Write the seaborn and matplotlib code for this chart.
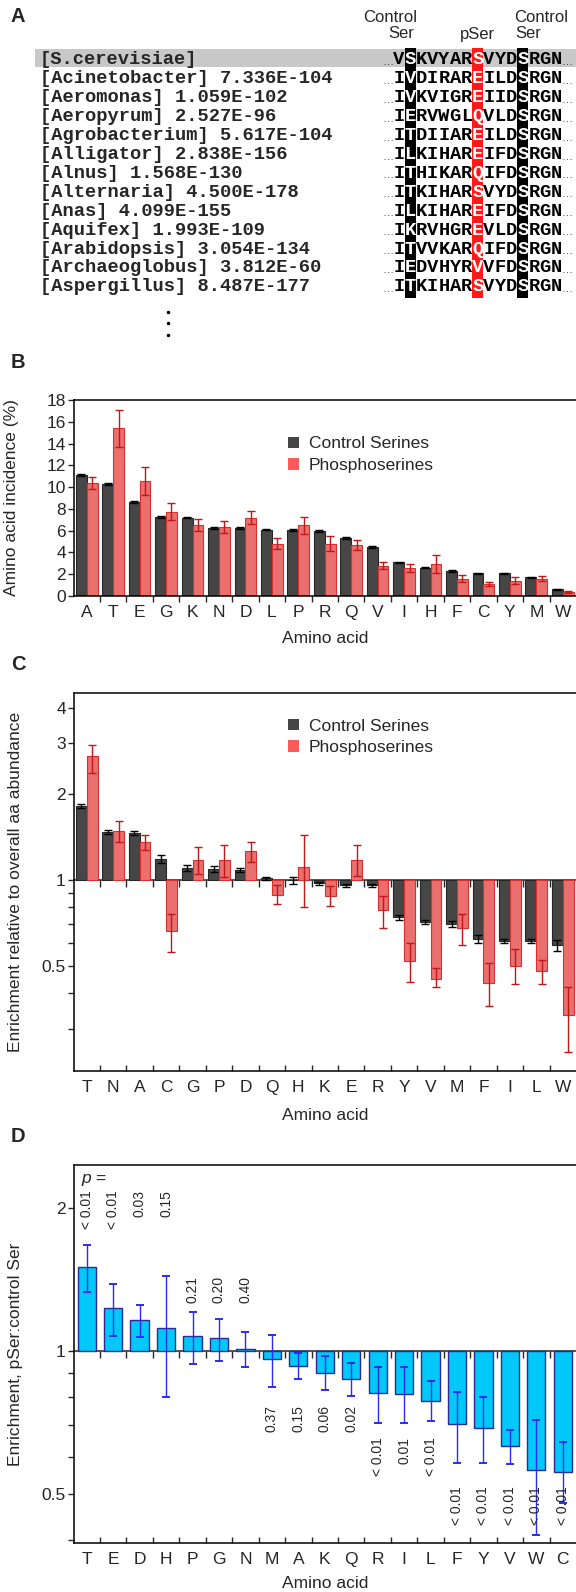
import numpy as np
import pandas as pd
import matplotlib
matplotlib.use('Agg')
import matplotlib.pyplot as plt
from matplotlib.patches import Rectangle, Patch
import seaborn as sns

# ---- panel A: alignment excerpt ----
species = ['S.cerevisiae', 'Acinetobacter', 'Aeromonas', 'Aeropyrum', 'Agrobacterium',
           'Alligator', 'Alnus', 'Alternaria', 'Anas', 'Aquifex', 'Arabidopsis',
           'Archaeoglobus', 'Aspergillus']
evalues = ['', '7.336E-104', '1.059E-102', '2.527E-96', '5.617E-104', '2.838E-156',
           '1.568E-130', '4.500E-178', '4.099E-155', '1.993E-109', '3.054E-134',
           '3.812E-60', '8.487E-177']
sequences = ['VSKVYARSVYDSRGN', 'IVDIRAREILDSRGN', 'IVKVIGREIIDSRGN', 'IERVWGLQVLDSRGN',
             'ITDIIAREILDSRGN', 'ILKIHAREIFDSRGN', 'ITHIKARQIFDSRGN', 'ITKIHARSVYDSRGN',
             'ILKIHAREIFDSRGN', 'IKRVHGREVLDSRGN', 'ITVVKARQIFDSRGN', 'IEDVHYRVVFDSRGN',
             'ITKIHARSVYDSRGN']
ctrl_cols = [1, 11]
pser_col = 7

# ---- panel B: amino acid incidence (%) ----
aa_b = ['A', 'T', 'E', 'G', 'K', 'N', 'D', 'L', 'P', 'R', 'Q', 'V', 'I', 'H', 'F', 'C', 'Y', 'M', 'W']
ctrl_b = [11.1, 10.3, 8.6, 7.28, 7.2, 6.25, 6.25, 6.1, 6.05, 5.95, 5.35, 4.5, 3.1, 2.6, 2.3, 2.1, 2.1, 1.7, 0.6]
ctrl_b_err = [0.12, 0.12, 0.1, 0.08, 0.08, 0.08, 0.08, 0.08, 0.08, 0.08, 0.07, 0.06, 0.06, 0.06, 0.05, 0.05, 0.05, 0.05, 0.04]
phos_b = [10.35, 15.4, 10.55, 7.75, 6.5, 6.3, 7.2, 4.8, 6.5, 4.8, 4.65, 2.8, 2.55, 2.95, 1.6, 1.13, 1.4, 1.6, 0.35]
phos_b_err = [0.55, 1.7, 1.3, 0.75, 0.55, 0.55, 0.6, 0.5, 0.8, 0.7, 0.45, 0.3, 0.35, 0.85, 0.3, 0.2, 0.3, 0.25, 0.08]

# ---- panel C: enrichment relative to overall abundance ----
aa_c = ['T', 'N', 'A', 'C', 'G', 'P', 'D', 'Q', 'H', 'K', 'E', 'R', 'Y', 'V', 'M', 'F', 'I', 'L', 'W']
ctrl_c = [1.81, 1.47, 1.457, 1.18, 1.10, 1.09, 1.08, 1.01, 0.995, 0.97, 0.955, 0.955, 0.74, 0.71, 0.70, 0.62, 0.61, 0.61, 0.59]
ctrl_c_err = [0.03, 0.02, 0.02, 0.04, 0.025, 0.03, 0.02, 0.015, 0.03, 0.015, 0.01, 0.012, 0.015, 0.01, 0.015, 0.02, 0.01, 0.01, 0.025]
phos_c = [2.70, 1.48, 1.355, 0.66, 1.175, 1.175, 1.26, 0.886, 1.11, 0.88, 1.175, 0.78, 0.52, 0.45, 0.68, 0.435, 0.50, 0.48, 0.335]
phos_c_lo = [2.37, 1.35, 1.27, 0.56, 1.05, 1.02, 1.15, 0.82, 0.80, 0.81, 1.03, 0.68, 0.44, 0.42, 0.59, 0.36, 0.43, 0.43, 0.25]
phos_c_hi = [2.97, 1.61, 1.437, 0.76, 1.30, 1.32, 1.35, 0.955, 1.43, 0.95, 1.32, 0.88, 0.60, 0.49, 0.76, 0.51, 0.57, 0.525, 0.42]

# ---- panel D: pSer : control Ser ----
aa_d = ['T', 'E', 'D', 'H', 'P', 'G', 'N', 'M', 'A', 'K', 'Q', 'R', 'I', 'L', 'F', 'Y', 'V', 'W', 'C']
ratio_d = [1.50, 1.23, 1.16, 1.12, 1.075, 1.063, 1.011, 0.96, 0.93, 0.90, 0.873, 0.815, 0.812, 0.787, 0.702, 0.69, 0.632, 0.563, 0.557]
ratio_lo = [1.33, 1.075, 1.07, 0.80, 0.94, 0.953, 0.924, 0.84, 0.873, 0.83, 0.806, 0.707, 0.705, 0.714, 0.583, 0.583, 0.58, 0.411, 0.48]
ratio_hi = [1.67, 1.38, 1.25, 1.44, 1.21, 1.17, 1.098, 1.08, 0.99, 0.976, 0.945, 0.927, 0.927, 0.866, 0.822, 0.80, 0.683, 0.716, 0.644]
p_labels = ['< 0.01', '< 0.01', '0.03', '0.15', '0.21', '0.20', '0.40', '0.37', '0.15', '0.06',
            '0.02', '< 0.01', '0.01', '< 0.01', '< 0.01', '< 0.01', '< 0.01', '< 0.01', '< 0.01']
# top of each rotated p label (in ratio units) - layout only
p_top = [2.18] * 4 + [1.44] * 3 + [0.77] * 4 + [0.66] * 3 + [0.52] * 5

dark, dark_edge = '#464646', '#262626'
red, red_edge, red_err = '#ff5a5a', '#d83030', '#c01818'
cyan, cyan_edge, blue_err = '#00c8f8', '#2a2a92', '#2c2cf0'

sns.set_style('ticks')
plt.rcParams['font.family'] = ['Liberation Sans', 'DejaVu Sans']
plt.rcParams['mathtext.fontset'] = 'custom'
plt.rcParams['mathtext.it'] = 'Liberation Sans:italic'
plt.rcParams['mathtext.rm'] = 'Liberation Sans'

W, H = 576, 1592
fig = plt.figure(figsize=(W / 100, H / 100), dpi=100)


def px_axes(left, top, right, bottom):
    return fig.add_axes([left / W, 1 - bottom / H, (right - left) / W, (bottom - top) / H])


# overlay in pixel coords for panel A and panel letters
ax_a = fig.add_axes([0, 0, 1, 1])
ax_a.set_xlim(0, W)
ax_a.set_ylim(H, 0)
ax_a.axis('off')

fs_mono = 13.5
cw = 0.6 * fs_mono * 100 / 72
row_y0, row_dy = 60, 18.9
seq_x0 = 399
ax_a.add_patch(Rectangle((35, row_y0 - 11), W - 35, 17.5, color='#c8c8c8', lw=0))
col_top = row_y0 - 12
col_h = row_dy * (len(species) - 1) + 23
for c in ctrl_cols:
    ax_a.add_patch(Rectangle((seq_x0 + c * cw - cw / 2, col_top), cw, col_h, color='black', lw=0))
ax_a.add_patch(Rectangle((seq_x0 + pser_col * cw - cw / 2, col_top), cw, col_h, color='#ff1a1a', lw=0))

for i, (sp, ev, sq) in enumerate(zip(species, evalues, sequences)):
    y = row_y0 + i * row_dy
    label = '[' + sp + ']' + (' ' + ev if ev else '')
    ax_a.text(40, y, label, family='Liberation Mono', weight='bold', fontsize=fs_mono,
              ha='left', va='center')
    ax_a.text(seq_x0 - 0.95 * cw, y + 5, '\u2026', fontsize=8, ha='center', va='baseline')
    ax_a.text(seq_x0 + (len(sq) - 0.05) * cw, y + 5, '\u2026', fontsize=8, ha='center', va='baseline')
    for k, ch in enumerate(sq):
        col = 'white' if (k in ctrl_cols or k == pser_col) else 'black'
        ax_a.text(seq_x0 + k * cw, y, ch, family='Liberation Mono', weight='bold',
                  fontsize=fs_mono, ha='center', va='center', color=col)

ax_a.text(390, 17, 'Control', fontsize=12, ha='center', va='center')
ax_a.text(401, 34, 'Ser', fontsize=12, ha='center', va='center')
ax_a.text(477, 34, 'pSer', fontsize=12, ha='center', va='center')
ax_a.text(541, 17, 'Control', fontsize=12, ha='center', va='center')
ax_a.text(528, 34, 'Ser', fontsize=12, ha='center', va='center')
ax_a.plot([168, 168, 168], [312, 323, 335], 'k.', ms=3)

for lab, y in [('A', 17), ('B', 363), ('C', 665), ('D', 1137)]:
    ax_a.text(18, y, lab, fontsize=14.5, weight='bold', ha='center', va='center')


def style_cat(ax, labels, xdir, height_px, xlab_off, ylab_x):
    n = len(labels)
    ax.set_xlim(-0.5, n - 0.5)
    ax.set_xticks(range(n), labels)
    ax.set_xticks(np.arange(0.5, n - 1, 1), minor=True)
    ax.tick_params(axis='x', which='major', length=0, pad=6.5, labelsize=12.5)
    ax.tick_params(axis='x', which='minor', direction=xdir, length=4, width=1)
    ax.tick_params(axis='y', which='both', direction='out', length=4, width=1, pad=1.5, labelsize=12.5)
    ax.spines['right'].set_visible(False)
    for s in ['left', 'bottom', 'top']:
        ax.spines[s].set_linewidth(1.1)
        ax.spines[s].set_color('black')
    ax.set_xlabel('Amino acid', fontsize=12.5)
    ax.xaxis.set_label_coords(0.5, -xlab_off / height_px)
    ax.yaxis.set_label_coords(ylab_x, 0.5)


def legend(ax, y):
    handles = [Patch(facecolor=dark, edgecolor='none'), Patch(facecolor=red, edgecolor='none')]
    ax.legend(handles, ['Control Serines', 'Phosphoserines'], loc='upper left',
              bbox_to_anchor=(0.427, y), frameon=False, fontsize=12.5, handlelength=0.65,
              handleheight=0.65, handletextpad=0.55, labelspacing=0.37, borderpad=0,
              borderaxespad=0)


def baseline(ax, n, lo, hi):
    sec = ax.secondary_xaxis((0 - lo) / (hi - lo))
    sec.set_xticks(np.arange(0.5, n - 1, 1))
    sec.set_xticklabels([])
    sec.tick_params(axis='x', direction='in', length=5, width=1)
    for s in sec.spines.values():
        s.set_linewidth(1.1)


# ---- panel B ----
axB = px_axes(73.5, 400, 576, 596)
dfB = pd.DataFrame({'aa': aa_b * 2,
                    'group': ['Control Serines'] * len(aa_b) + ['Phosphoserines'] * len(aa_b),
                    'value': ctrl_b + phos_b})
sns.barplot(data=dfB, x='aa', y='value', hue='group', palette=[dark, red], errorbar=None,
            width=0.82, ax=axB, legend=False, linewidth=0.8)
for cont, ec, vals, errs, erc in [(axB.containers[0], dark_edge, ctrl_b, ctrl_b_err, 'black'),
                                  (axB.containers[1], red_edge, phos_b, phos_b_err, red_err)]:
    xs = []
    for p in cont:
        p.set_edgecolor(ec)
        xs.append(p.get_x() + p.get_width() / 2)
    axB.errorbar(xs, vals, yerr=errs, fmt='none', ecolor=erc, elinewidth=1, capsize=3, capthick=1)
axB.set_ylim(0, 18)
axB.set_yticks(range(0, 19, 2))
style_cat(axB, aa_b, 'out', 196, 35, -0.108)
axB.set_ylabel('Amino acid incidence (%)', fontsize=12.5)
legend(axB, 0.814)

# ---- panel C (log2 axis) ----
axC = px_axes(73.5, 693, 576, 1071)
dfC = pd.DataFrame({'aa': aa_c * 2,
                    'group': ['Control Serines'] * len(aa_c) + ['Phosphoserines'] * len(aa_c),
                    'log2': np.log2(ctrl_c + phos_c)})
sns.barplot(data=dfC, x='aa', y='log2', hue='group', palette=[dark, red], errorbar=None,
            width=0.82, ax=axC, legend=False, linewidth=0.8)
c_ctrl = np.array(ctrl_c)
c_err = np.array(ctrl_c_err)
c_phos = np.array(phos_c)
c_specs = [(axC.containers[0], dark_edge, c_ctrl, c_ctrl - c_err, c_ctrl + c_err, 'black'),
           (axC.containers[1], red_edge, c_phos, np.array(phos_c_lo), np.array(phos_c_hi), red_err)]
for cont, ec, v, lo, hi, erc in c_specs:
    xs = []
    for p in cont:
        p.set_edgecolor(ec)
        xs.append(p.get_x() + p.get_width() / 2)
    axC.errorbar(xs, np.log2(v), yerr=[np.log2(v) - np.log2(lo), np.log2(hi) - np.log2(v)],
                 fmt='none', ecolor=erc, elinewidth=1, capsize=3, capthick=1)
c_lo, c_hi = np.log2(0.214), np.log2(4.5)
axC.set_ylim(c_lo, c_hi)
axC.set_yticks(np.log2([0.5, 1, 2, 3, 4]), ['0.5', '1', '2', '3', '4'])
axC.set_yticks(np.log2([0.3, 0.4, 0.6, 0.7, 0.8, 0.9]), minor=True)
style_cat(axC, aa_c, 'in', 378, 37, -0.10)
axC.set_ylabel('Enrichment relative to overall aa abundance', fontsize=12.5)
baseline(axC, len(aa_c), c_lo, c_hi)
legend(axC, 0.932)

# ---- panel D (log2 axis) ----
axD = px_axes(73.5, 1165, 576, 1543)
d_val = np.array(ratio_d)
sns.barplot(x=aa_d, y=np.log2(d_val), color=cyan, width=0.69, ax=axD,
            edgecolor=cyan_edge, linewidth=1, saturation=1)
xs = [p.get_x() + p.get_width() / 2 for p in axD.containers[0]]
axD.errorbar(xs, np.log2(d_val),
             yerr=[np.log2(d_val) - np.log2(ratio_lo), np.log2(ratio_hi) - np.log2(d_val)],
             fmt='none', ecolor=blue_err, elinewidth=1, capsize=3, capthick=1.4)
d_lo, d_hi = np.log2(0.395), np.log2(2.46)
axD.set_ylim(d_lo, d_hi)
axD.set_yticks(np.log2([0.5, 1, 2]), ['0.5', '1', '2'])
axD.set_yticks(np.log2([0.4, 0.6, 0.7, 0.8, 0.9]), minor=True)
style_cat(axD, aa_d, 'in', 378, 33, -0.10)
axD.set_ylabel('Enrichment, pSer:control Ser', fontsize=12.5)
baseline(axD, len(aa_d), d_lo, d_hi)
for i, (lab, top) in enumerate(zip(p_labels, p_top)):
    axD.text(i, np.log2(top), lab, rotation=90, ha='center', va='top', fontsize=10)
axD.text(0.015, 0.96, r'$p$ =', transform=axD.transAxes, fontsize=12.5, ha='left', va='center')

fig.savefig('out.png', dpi=100)
